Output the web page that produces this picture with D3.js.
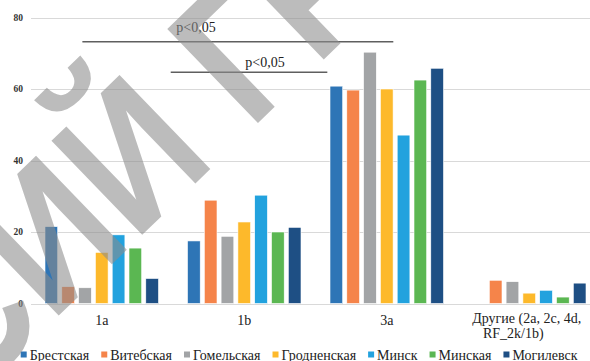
<!DOCTYPE html>
<html>
<head>
<meta charset="utf-8">
<script src="https://cdn.jsdelivr.net/npm/d3@7"></script>
<style>
html,body{margin:0;padding:0;background:#fff;}
svg{display:block;}
</style>
</head>
<body>
<svg id="chart" width="590" height="361"></svg>
<script>
// ---- data ----
const categories = ["1a", "1b", "3a", "Другие (2a, 2c, 4d,|RF_2k/1b)"];
const seriesNames = ["Брестская", "Витебская", "Гомельская", "Гродненская", "Минск", "Минская", "Могилевск"];
const brest     = [21.5, 17.5, 60.8, 0];
const vitebsk   = [4.7, 28.9, 59.7, 6.5];
const gomel     = [4.4, 18.8, 70.3, 6.1];
const grodno    = [14.3, 22.8, 60.0, 2.9];
const minskCity = [19.2, 30.3, 47.1, 3.7];
const minskReg  = [15.5, 20.0, 62.5, 1.8];
const mogilev   = [7.0, 21.3, 65.8, 5.7];
const seriesValues = [brest, vitebsk, gomel, grodno, minskCity, minskReg, mogilev];
const colors = ["#2e75b6", "#f5844a", "#a2a4a6", "#fdb92b", "#22a2de", "#5bb752", "#1e4f84"];
const yTicks = [0, 20, 40, 60, 80];
// significance brackets: [fromCategory, offset, toCategory, offset, yValue]
const sigLines = [
  ["1a", 0.364, "3a", 0.546, 73.2],
  ["1b", -0.016, "3a", 0.083, 64.7]
];
const sigLabels = [
  ["p<0,05", "1b", 0.161, 75.9],
  ["p<0,05", "1b", 0.646, 66.2]
];
const watermarkText = "СИЙ ГР";

// ---- layout ----
const svg = d3.select("#chart");
const W = 590, H = 361;
const plotLeft = 30.5, plotRight = 600.5;
const y = d3.scaleLinear().domain([0, 80]).range([303.5, 17.5]);
const catKeys = categories;
const x0 = d3.scaleBand().domain(catKeys).range([plotLeft, plotRight]).paddingInner(0).paddingOuter(0);
const x1 = d3.scaleBand().domain(seriesNames).range([0, x0.bandwidth()]).paddingInner(0.244).paddingOuter(0.863);
const serif = "Liberation Serif, Times New Roman, DejaVu Serif, serif";

// gridlines
svg.append("g").selectAll("line").data(yTicks).join("line")
  .attr("x1", 31).attr("x2", W)
  .attr("y1", d => Math.round(y(d)) + 0.5).attr("y2", d => Math.round(y(d)) + 0.5)
  .attr("stroke", "#d9d9d9").attr("stroke-width", 1);

// y labels
svg.append("g").selectAll("text").data(yTicks).join("text")
  .attr("x", 23).attr("y", d => y(d)).attr("dy", "0.35em")
  .attr("text-anchor", "end")
  .attr("font-family", serif).attr("font-weight", "bold").attr("font-size", 9.5)
  .attr("fill", "#333")
  .text(d => d);

// bars
const flat = [];
seriesValues.forEach((vals, si) => vals.forEach((v, ci) => flat.push({s: seriesNames[si], si, c: catKeys[ci], v})));
svg.append("g").selectAll("rect").data(flat.filter(d => d.v > 0)).join("rect")
  .attr("x", d => x0(d.c) + x1(d.s))
  .attr("width", x1.bandwidth())
  .attr("y", d => y(d.v))
  .attr("height", d => y(0) - y(d.v))
  .attr("fill", d => colors[d.si])
  .attr("stroke", "#fff").attr("stroke-width", 0.6);

// category labels
const catG = svg.append("g");
catKeys.forEach(c => {
  const lines = c.split("|");
  const cx = x0(c) + x0.bandwidth() / 2;
  if (lines.length === 1) {
    catG.append("text").attr("x", cx).attr("y", 325).attr("text-anchor", "middle")
      .attr("font-family", serif).attr("font-size", 14).attr("fill", "#222").text(lines[0]);
  } else {
    catG.append("text").attr("x", cx - 57).attr("y", 323).attr("text-anchor", "start")
      .attr("font-family", serif).attr("font-size", 14).attr("fill", "#222").text(lines[0]);
    catG.append("text").attr("x", cx - 16).attr("y", 338).attr("text-anchor", "middle")
      .attr("font-family", serif).attr("font-size", 14).attr("fill", "#222").text(lines[1]);
  }
});

// significance lines
svg.append("g").selectAll("line").data(sigLines).join("line")
  .attr("x1", d => x0(d[0]) + d[1] * x0.bandwidth())
  .attr("x2", d => x0(d[2]) + d[3] * x0.bandwidth())
  .attr("y1", d => y(d[4])).attr("y2", d => y(d[4]))
  .attr("stroke", "#5f5f5f").attr("stroke-width", 1.6);
svg.append("g").selectAll("text").data(sigLabels).join("text")
  .attr("x", d => x0(d[1]) + d[2] * x0.bandwidth())
  .attr("y", d => y(d[3]))
  .attr("text-anchor", "middle")
  .attr("font-family", serif).attr("font-size", 14).attr("fill", "#222")
  .text(d => d[0]);

// legend
const leg = svg.append("g");
let lx = 20.7;
seriesNames.forEach((n, i) => {
  leg.append("rect").attr("x", lx).attr("y", 351.5).attr("width", 6).attr("height", 6).attr("fill", colors[i]);
  const t = leg.append("text").attr("x", lx + 9).attr("y", 359.5)
    .attr("font-family", serif).attr("font-size", 14).attr("fill", "#222").text(n);
  lx += 9 + t.node().getComputedTextLength() + 12;
});

// watermark
svg.append("text")
  .attr("transform", "translate(-33,404) rotate(-44) scale(0.85,1)")
  .attr("font-family", "Liberation Sans, Arial, sans-serif")
  .attr("font-weight", "bold").attr("font-size", 190)
  .attr("fill", "#8c8c8c").attr("fill-opacity", 0.58)
  .text(watermarkText);
</script>
</body>
</html>
